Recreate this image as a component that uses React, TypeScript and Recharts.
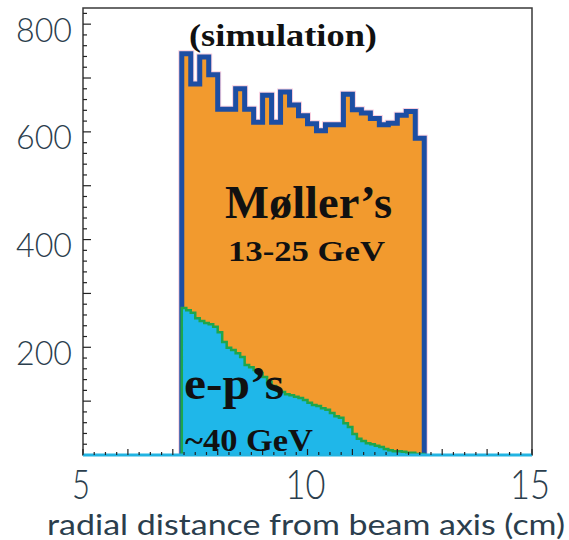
import React from "react";
import {
  ComposedChart,
  Area,
  XAxis,
  YAxis,
  ReferenceArea,
  ReferenceLine,
} from "recharts";

// histogram binning (cm)
const binStart = 7.2;
const totalBinWidth = 0.2;
const epBinWidth = 0.1;

// Møller + e-p total counts per 0.2 cm bin
const totalCounts = [
  745, 689, 739, 706, 642, 642, 680, 642, 618, 668, 618, 674, 650, 630, 615,
  602, 613, 613, 670, 641, 635, 625, 613, 616, 631, 638, 588,
];

// e-p counts per 0.1 cm bin
const epCounts = [
  273, 269, 264, 254, 249, 245, 243, 238, 228, 210, 199, 195, 189, 182, 167,
  163, 158, 152, 145, 136, 128, 121, 117, 113, 111, 108, 106, 102, 97, 93, 91,
  87, 84, 78, 72, 69, 59, 52, 39, 30, 26, 22, 20, 17, 15, 11, 9, 7, 7, 6, 4, 4,
  2, 2,
];

const xTickLabels = [5, 10, 15];
const yTickLabels = [200, 400, 600, 800];

const W = 569;
const H = 540;
const PLOT_LEFT = 83;
const PLOT_RIGHT = 532;
const PLOT_TOP = 8;
const PLOT_BOTTOM = 455;

const xTicks = Array.from({ length: 41 }, (_, i) => 5 + i * 0.25);
const yTicks = Array.from({ length: 42 }, (_, i) => i * 20);

const r2 = (n: number) => Math.round(n * 100) / 100;

function toSteps(counts: number[], start: number, width: number) {
  const pts = [{ x: start, v: 0 }];
  counts.forEach((c, i) => pts.push({ x: r2(start + i * width), v: c }));
  const end = r2(start + counts.length * width);
  pts.push({ x: end, v: counts[counts.length - 1] });
  pts.push({ x: end, v: 0 });
  return pts;
}

const totalData = toSteps(totalCounts, binStart, totalBinWidth);
const epData = toSteps(epCounts, binStart, epBinWidth);

const labelColor = "#2b3e4d";
const sans = "Lato, 'Noto Sans', sans-serif";

const XTick = (props: any) => {
  const { x, payload } = props;
  const v = payload.value;
  const major = Math.abs(v - Math.round(v)) < 1e-6;
  const len = major ? 6 : 3;
  const showLabel = xTickLabels.includes(v);
  return (
    <g>
      <line x1={x} x2={x} y1={PLOT_BOTTOM} y2={PLOT_BOTTOM - len} stroke="#222" strokeWidth={1.2} />
      {showLabel && (
        <text
          x={x - 2}
          y={499}
          textAnchor="middle"
          fontFamily={sans}
          fontWeight={300}
          fontSize={42}
          fill={labelColor}
          textLength={v >= 10 ? 40 : 18}
          lengthAdjust="spacingAndGlyphs"
        >
          {v}
        </text>
      )}
    </g>
  );
};

const YTick = (props: any) => {
  const { y, payload } = props;
  const v = payload.value;
  if (v === 0) return null;
  const major = v % 100 === 0;
  const len = major ? 8 : 4;
  const showLabel = yTickLabels.includes(v);
  return (
    <g>
      <line x1={PLOT_LEFT} x2={PLOT_LEFT + len} y1={y} y2={y} stroke="#222" strokeWidth={1.2} />
      {showLabel && (
        <text
          x={44}
          y={y + 4}
          textAnchor="middle"
          dominantBaseline="central"
          fontFamily={sans}
          fontWeight={300}
          fontSize={34}
          fill={labelColor}
          textLength={56}
          lengthAdjust="spacingAndGlyphs"
        >
          {v}
        </text>
      )}
    </g>
  );
};

const serif = "'Liberation Serif', 'Times New Roman', serif";

export default function App() {
  return (
    <div style={{ position: "absolute", left: 0, top: 0, width: W, height: H, background: "#fff" }}>
      <ComposedChart
        width={W}
        height={H}
        margin={{ top: PLOT_TOP, right: W - PLOT_RIGHT, bottom: 0, left: 0 }}
      >
        <XAxis
          type="number"
          dataKey="x"
          domain={[5, 15]}
          ticks={xTicks}
          interval={0}
          tick={<XTick />}
          tickLine={false}
          axisLine={false}
          height={H - PLOT_BOTTOM}
          allowDataOverflow
        />
        <YAxis
          type="number"
          domain={[0, 830]}
          ticks={yTicks}
          interval={0}
          tick={<YTick />}
          tickLine={false}
          axisLine={false}
          width={PLOT_LEFT}
          allowDataOverflow
        />
        <Area
          data={totalData}
          dataKey="v"
          type="stepAfter"
          stroke="#f8cfe0"
          strokeWidth={7}
          fill="none"
          isAnimationActive={false}
        />
        <Area
          data={totalData}
          dataKey="v"
          type="stepAfter"
          stroke="#1d4ea3"
          strokeWidth={5}
          fill="#f29a2e"
          fillOpacity={1}
          isAnimationActive={false}
        />
        <Area
          data={epData}
          dataKey="v"
          type="stepAfter"
          stroke="#1ea64c"
          strokeWidth={2.5}
          fill="#1fb7e9"
          fillOpacity={1}
          isAnimationActive={false}
        />
        <ReferenceLine y={0} stroke="#22b4e2" strokeWidth={3} />
        <ReferenceArea x1={5} x2={15} y1={0} y2={830} fill="none" stroke="#3a3a3a" strokeWidth={1.5} />
      </ComposedChart>
      <svg
        width={W}
        height={H}
        style={{ position: "absolute", left: 0, top: 0, pointerEvents: "none" }}
      >
        <text x={189} y={46} fontFamily={serif} fontWeight="bold" fontSize={31} fill="#111" textLength={188} lengthAdjust="spacingAndGlyphs">
          (simulation)
        </text>
        <text x={225} y={218} fontFamily={serif} fontWeight="bold" fontSize={46} fill="#111" textLength={167} lengthAdjust="spacingAndGlyphs">
          Møller’s
        </text>
        <text x={228} y={261} fontFamily={serif} fontWeight="bold" fontSize={29} fill="#111" textLength={157} lengthAdjust="spacingAndGlyphs">
          13-25 GeV
        </text>
        <text x={184} y={399} fontFamily={serif} fontWeight="bold" fontSize={46} fill="#111" textLength={100} lengthAdjust="spacingAndGlyphs">
          e-p’s
        </text>
        <text x={185} y={451} fontFamily={serif} fontWeight="bold" fontSize={32} fill="#111" textLength={128} lengthAdjust="spacingAndGlyphs">
          ~40 GeV
        </text>
        <text x={306} y={535} textAnchor="middle" fontFamily={sans} fontSize={28} fill={labelColor} textLength={518} lengthAdjust="spacingAndGlyphs">
          radial distance from beam axis (cm)
        </text>
      </svg>
    </div>
  );
}
